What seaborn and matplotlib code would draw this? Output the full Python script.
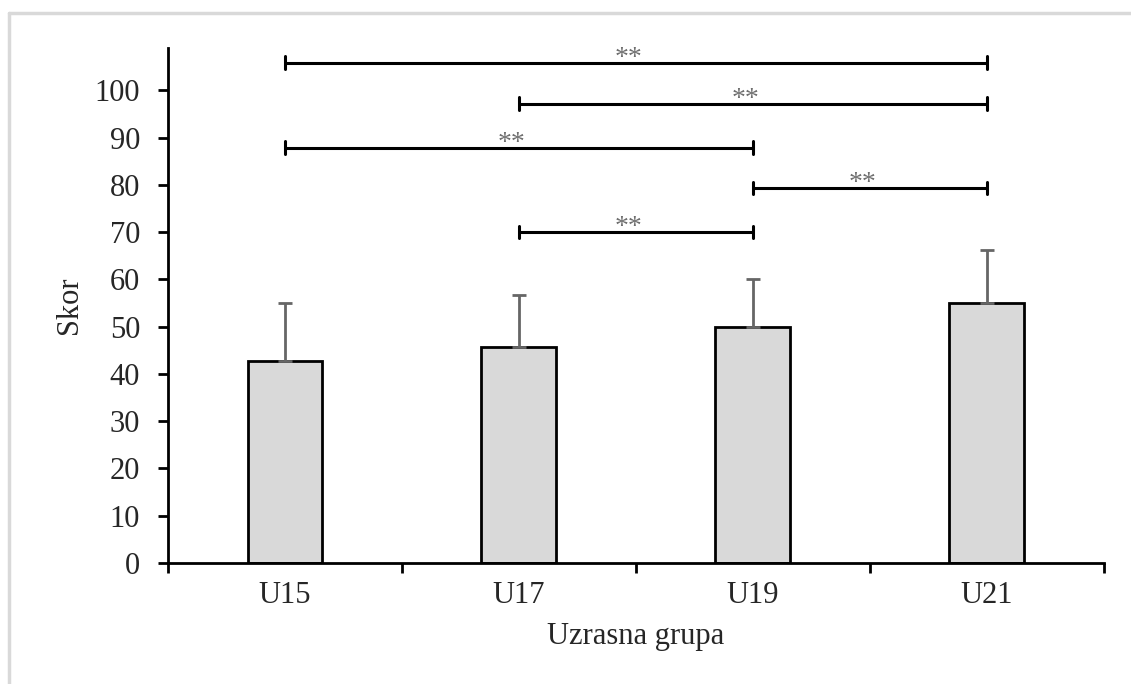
import pandas as pd
import numpy as np
import matplotlib
matplotlib.use("Agg")
import matplotlib.pyplot as plt
from matplotlib.lines import Line2D
import seaborn as sns

# data
groups = ["U15", "U17", "U19", "U21"]
means = [42.8, 45.7, 50.0, 55.0]
sds = [12.2, 10.9, 10.0, 11.3]

# significance brackets: (from group, to group, height)
sig_from = [0, 1, 0, 2, 1]
sig_to = [3, 3, 2, 3, 2]
sig_height = [105.9, 97.2, 87.9, 79.4, 70.1]
sig_label = ["**", "**", "**", "**", "**"]

df = pd.DataFrame({"group": groups, "mean": means, "sd": sds})

sns.set_style("white")
plt.rcParams["font.family"] = ["Liberation Serif", "DejaVu Serif"]

fig = plt.figure(figsize=(11.31, 6.84), dpi=100)
ax = fig.add_axes([0.1485, 0.177, 0.8275, 0.753])

sns.barplot(data=df, x="group", y="mean", color="#d9d9d9", edgecolor="black",
            linewidth=2, width=0.32, errorbar=None, saturation=1, ax=ax)

# upper half error bars only
ax.errorbar(np.arange(len(groups)), means, yerr=[np.zeros(len(sds)), sds],
            fmt="none", ecolor="#666666", elinewidth=2, capsize=5, capthick=2, zorder=1)

for a, b, h, lab in zip(sig_from, sig_to, sig_height, sig_label):
    ax.plot([a, b], [h, h], color="black", lw=2.2, solid_capstyle="butt", zorder=3)
    ax.plot([a, a], [h - 1.3, h + 1.3], color="black", lw=2.2, zorder=3)
    ax.plot([b, b], [h - 1.3, h + 1.3], color="black", lw=2.2, zorder=3)
    ax.text((a + b) / 2 - 0.03, h - 1.7, lab, ha="center", va="bottom",
            fontsize=20, color="#6e6e6e")

ax.set_xlim(-0.5, 3.5)
ax.set_ylim(0, 109)
ax.set_yticks(range(0, 101, 10))
ax.set_xticks(np.arange(-0.5, 3.6, 1), minor=True)
ax.tick_params(axis="x", which="major", length=0, labelsize=22, pad=13)
ax.tick_params(axis="x", which="minor", length=7, width=2, direction="out", bottom=True, color="black")
ax.tick_params(axis="y", length=7, width=2, direction="out", left=True, labelsize=22, pad=13, color="black")

for s in ["top", "right"]:
    ax.spines[s].set_visible(False)
for s in ["left", "bottom"]:
    ax.spines[s].set_color("black")
    ax.spines[s].set_linewidth(2)

ax.set_xlabel("Uzrasna grupa", fontsize=22, labelpad=9)
ax.set_ylabel("Skor", fontsize=22, labelpad=8)

# light frame at the top and left of the image
fig.add_artist(Line2D([9 / 1131, 9 / 1131], [0, 1 - 13 / 684], transform=fig.transFigure,
                      color="#d9d9d9", lw=2.5))
fig.add_artist(Line2D([9 / 1131, 1], [1 - 13 / 684, 1 - 13 / 684], transform=fig.transFigure,
                      color="#d9d9d9", lw=2.5))

fig.savefig("out.png", dpi=100)
